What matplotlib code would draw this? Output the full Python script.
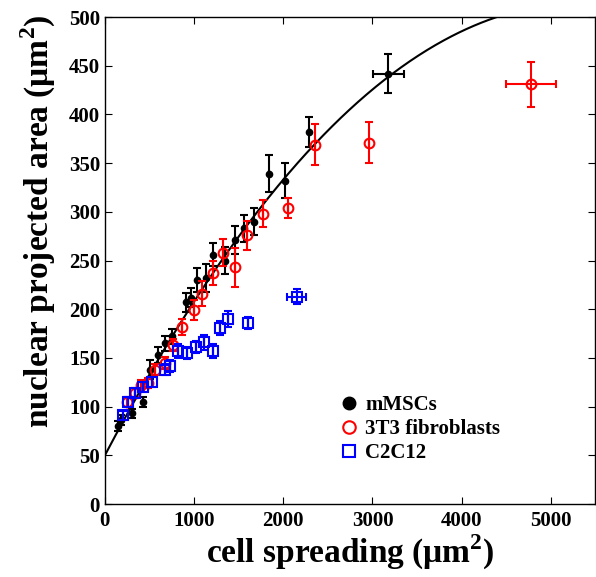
import numpy as np
import matplotlib.pyplot as plt
from matplotlib.lines import Line2D

plt.rcParams['font.family'] = ['Liberation Serif', 'DejaVu Serif']
plt.rcParams['font.weight'] = 'bold'
plt.rcParams['mathtext.fontset'] = 'custom'
plt.rcParams['mathtext.rm'] = 'Liberation Serif:bold'
plt.rcParams['mathtext.bf'] = 'Liberation Serif:bold'

# mMSCs (black)
msc_x = [146, 180, 300, 424, 505, 600, 675, 750, 910, 960, 1030, 1130, 1210,
         1345, 1460, 1560, 1670, 1840, 2020, 2290, 3180]
msc_y = [80, 86, 93, 105, 138, 153, 165, 172, 207, 212, 230, 232, 256,
         250, 271, 283, 290, 339, 332, 382, 442]
msc_err = [5, 5, 5, 5, 10, 8, 8, 8, 10, 10, 12, 14, 12,
           14, 14, 14, 14, 19, 18, 15, 20]
msc_xerr = [0] * 20 + [170]

# 3T3 fibroblasts (red)
t3_x = [245, 335, 410, 485, 560, 675, 765, 870, 1000, 1085, 1215, 1320,
        1460, 1590, 1775, 2055, 2355, 2960, 4776]
t3_y = [105, 114, 122, 124, 138, 145, 163, 182, 199, 216, 237, 258,
        243, 276, 298, 304, 369, 371, 431]
t3_err = [5, 5, 5, 5, 6, 6, 6, 8, 10, 13, 12, 14,
          20, 15, 14, 10, 21, 21, 23]
t3_xerr = [0] * 18 + [280]

# C2C12 (blue)
c2_x = [205, 260, 335, 430, 525, 675, 735, 815, 920, 1020, 1110, 1210,
        1290, 1380, 1600, 2150]
c2_y = [91, 105, 114, 120, 125, 138, 142, 157, 155, 161, 166, 157,
        181, 190, 186, 213]
c2_err = [5, 5, 5, 5, 5, 6, 6, 7, 6, 6, 8, 7, 7, 8, 6, 8]
c2_xerr = [0] * 15 + [110]

# fitted curve: y = a0 + a1*x + a2*x^2
fit_a0, fit_a1, fit_a2 = 50, 0.1742, -1.634e-5

fig = plt.figure(figsize=(5.96, 5.77), dpi=100)
ax = fig.add_axes([0.176, 0.1265, 0.823, 0.844])

xs = np.linspace(0, 5500, 400)
ax.plot(xs, fit_a0 + fit_a1 * xs + fit_a2 * xs ** 2, color='black', lw=1.5, zorder=2)

ax.errorbar(msc_x, msc_y, yerr=msc_err, xerr=msc_xerr, fmt='o', color='black',
            ms=4.5, capsize=3, elinewidth=1.5, capthick=1.5, zorder=3)
ax.errorbar(t3_x, t3_y, yerr=t3_err, xerr=t3_xerr, fmt='o', color='red',
            mfc='none', ms=7, mew=1.5, capsize=3, elinewidth=1.5, capthick=1.5,
            zorder=4)
ax.errorbar(c2_x, c2_y, yerr=c2_err, xerr=c2_xerr, fmt='s', color='blue',
            mfc='none', ms=6.5, mew=1.5, capsize=3, elinewidth=1.5, capthick=1.5,
            zorder=5)

ax.set_xlim(0, 5500)
ax.set_ylim(0, 500)
ax.set_xticks(range(0, 5001, 1000))
ax.set_yticks(range(0, 501, 50))
ax.tick_params(direction='in', top=True, right=True, length=5, labelsize=15)
ax.tick_params(axis='x', pad=5)
for s in ax.spines.values():
    s.set_linewidth(1.0)

ax.set_xlabel(r'cell spreading (μm$^{\mathbf{2}}$)', fontsize=24, fontweight='bold',
              labelpad=1)
ax.set_ylabel(r'nuclear projected area (μm$^{\mathbf{2}}$)', fontsize=24,
              fontweight='bold')
ax.yaxis.set_label_coords(-0.096, 0.58)

handles = [
    Line2D([], [], ls='none', marker='o', color='black', ms=9),
    Line2D([], [], ls='none', marker='o', color='red', mfc='none', ms=9, mew=1.5),
    Line2D([], [], ls='none', marker='s', color='blue', mfc='none', ms=8, mew=1.5),
]
ax.legend(handles, ['mMSCs', '3T3 fibroblasts', 'C2C12'], loc='lower left',
          bbox_to_anchor=(0.45, 0.054), frameon=False, fontsize=15,
          handlelength=0.8, handletextpad=0.4, labelspacing=0.2, borderpad=0.2)

plt.savefig('out.png', dpi=100)
